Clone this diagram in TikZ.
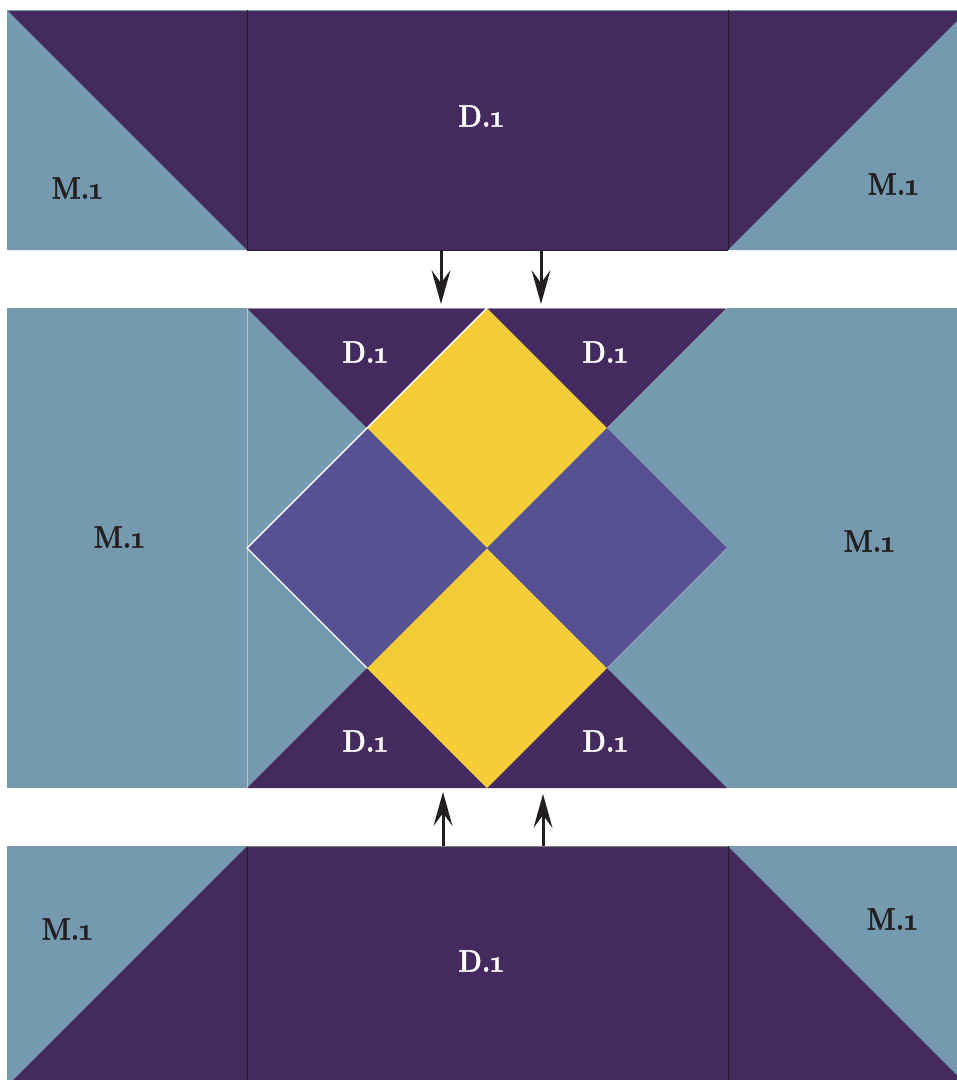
\documentclass[tikz,border=0pt]{standalone}
\usepackage{fontspec}
\newfontfamily\labfont{Latin Modern Roman}[Numbers=OldStyle,BoldFeatures={FakeBold=1.3}]
\definecolor{qpurple}{RGB}{69,42,96}
\definecolor{qblue}{RGB}{117,154,176}
\definecolor{qyellow}{RGB}{244,205,55}
\definecolor{qviolet}{RGB}{86,81,147}
\definecolor{qink}{RGB}{35,31,32}
\newcommand{\qlab}[1]{\scalebox{0.88}[1]{\labfont\bfseries #1.1}}
\tikzset{
  dlabel/.style={text=white,font=\fontsize{31}{33}\selectfont,inner sep=0pt},
  mlabel/.style={text=qink,font=\fontsize{31}{33}\selectfont,inner sep=0pt},
  seam/.style={draw=qink,line width=0.8pt},
  faint/.style={draw=white,draw opacity=0.45,line width=0.6pt},
  whiteedge/.style={draw=white,line width=1.4pt,line join=miter},
  flow/.style={draw=qink,line width=3pt},
  flowhead/.style={fill=qink,draw=none}
}
\begin{document}
\begin{tikzpicture}[x=1pt,y=-1pt]
\useasboundingbox (0,0) rectangle (957,1080);
\begin{scope}
\clip (0,0) rectangle (957,1080);
% ---------- top band ----------
\fill[qpurple] (7,10) rectangle (968,250);
\fill[qblue] (7,10) -- (7,250) -- (247,250) -- cycle;
\fill[qblue] (728,250) -- (968,250) -- (968,10) -- cycle;
\draw[qblue,line width=1pt] (7,10.5) -- (957,10.5);
\draw[seam] (247,10) -- (247,250);
\draw[seam] (728,10) -- (728,250);
\draw[seam] (247,250) -- (728,250);
% ---------- middle band ----------
\fill[qblue] (7,308) rectangle (957,788);
\fill[qpurple] (247,308) -- (727,308) -- (487,548) -- cycle;
\fill[qpurple] (247,788) -- (727,788) -- (487,548) -- cycle;
\fill[qyellow] (487,308) -- (607,428) -- (487,548) -- (367,428) -- cycle;
\fill[qyellow] (487,548) -- (607,668) -- (487,788) -- (367,668) -- cycle;
\fill[qviolet] (247,548) -- (367,428) -- (487,548) -- (367,668) -- cycle;
\fill[qviolet] (487,548) -- (607,428) -- (727,548) -- (607,668) -- cycle;
\draw[faint] (247,308) -- (247,788);
\draw[faint] (727,308) -- (607,428);
\draw[faint] (727,548) -- (607,668);
\draw[faint] (247,308) -- (727,308);
\draw[whiteedge] (367,668) -- (247,548) -- (367,428) -- (487,308);
% ---------- bottom band ----------
\fill[qpurple] (7,846) rectangle (968,1090);
\fill[qblue] (7,846) -- (247,846) -- (7,1086) -- cycle;
\fill[qblue] (728,846) -- (968,846) -- (968,1086) -- cycle;
\draw[seam] (247,846) -- (247,1090);
\draw[seam] (728,846) -- (728,1090);
\draw[draw=gray,line width=0.8pt] (247,846) -- (728,846);
\end{scope}
% ---------- labels ----------
\node[dlabel] (dtop) at (481,116) {\qlab{D}};
\node[mlabel] (mtl) at (77,188) {\qlab{M}};
\node[mlabel] (mtr) at (893,184) {\qlab{M}};
\node[dlabel] (dm1) at (365,352) {\qlab{D}};
\node[dlabel] (dm2) at (605,352) {\qlab{D}};
\node[dlabel] (dm3) at (365,741) {\qlab{D}};
\node[dlabel] (dm4) at (605,741) {\qlab{D}};
\node[mlabel] (mml) at (119,537) {\qlab{M}};
\node[mlabel] (mmr) at (869,541) {\qlab{M}};
\node[dlabel] (dbot) at (481,961) {\qlab{D}};
\node[mlabel] (mbl) at (67,929) {\qlab{M}};
\node[mlabel] (mbr) at (892,919) {\qlab{M}};
% ---------- arrows ----------
\coordinate (a1s) at (441,250); \coordinate (a1e) at (441,304); \coordinate (a1b) at (441,292);
\coordinate (a2s) at (541,250); \coordinate (a2e) at (541,304); \coordinate (a2b) at (541,292);
\coordinate (b1s) at (443,846); \coordinate (b1e) at (443,792); \coordinate (b1b) at (443,804);
\coordinate (b2s) at (543,846); \coordinate (b2e) at (543,794); \coordinate (b2b) at (543,806);
\draw[flow] (a1s) -- (a1b);
\draw[flow] (a2s) -- (a2b);
\draw[flow] (b1s) -- (b1b);
\draw[flow] (b2s) -- (b2b);
\fill[flowhead] (a1e) -- ++(-9.5,-34) -- ++(9.5,13) -- ++(9.5,-13) -- cycle;
\fill[flowhead] (a2e) -- ++(-9.5,-34) -- ++(9.5,13) -- ++(9.5,-13) -- cycle;
\fill[flowhead] (b1e) -- ++(-9.5,34) -- ++(9.5,-13) -- ++(9.5,13) -- cycle;
\fill[flowhead] (b2e) -- ++(-9.5,34) -- ++(9.5,-13) -- ++(9.5,13) -- cycle;
\end{tikzpicture}
\end{document}
